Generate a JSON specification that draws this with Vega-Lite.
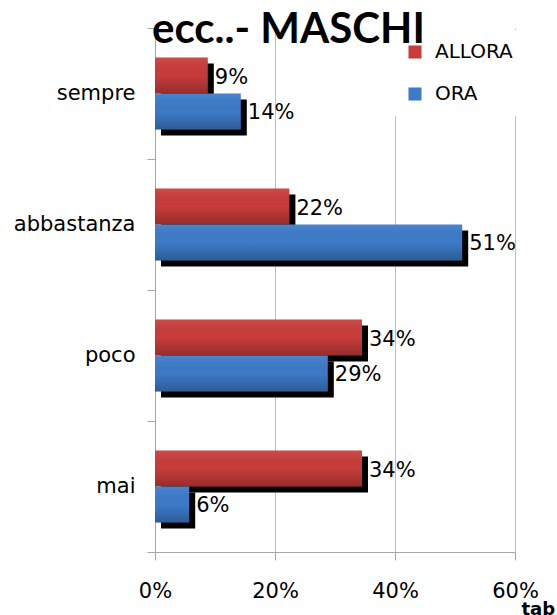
{
  "$schema": "https://vega.github.io/schema/vega-lite/v6.json",
  "width": 360,
  "height": 524,
  "autosize": {"type": "none"},
  "padding": {"left": 155, "top": 28, "right": 42, "bottom": 63},
  "background": "white",
  "title": {"text": "ecc..- MASCHI", "anchor": "start", "frame": "group", "font": "Lato", "fontSize": 42, "fontWeight": "bold", "color": "black", "baseline": "alphabetic", "offset": 0, "dy": 68, "dx": -3},
  "data": {"values": [
    {"cat": "sempre", "serie": "ALLORA", "value": 0.088, "label": "9%"},
    {"cat": "sempre", "serie": "ORA", "value": 0.143, "label": "14%"},
    {"cat": "abbastanza", "serie": "ALLORA", "value": 0.224, "label": "22%"},
    {"cat": "abbastanza", "serie": "ORA", "value": 0.512, "label": "51%"},
    {"cat": "poco", "serie": "ALLORA", "value": 0.345, "label": "34%"},
    {"cat": "poco", "serie": "ORA", "value": 0.288, "label": "29%"},
    {"cat": "mai", "serie": "ALLORA", "value": 0.345, "label": "34%"},
    {"cat": "mai", "serie": "ORA", "value": 0.057, "label": "6%"}
  ]},
  "encoding": {
    "y": {"field": "cat", "type": "nominal", "sort": ["sempre", "abbastanza", "poco", "mai"],
      "scale": {"paddingInner": 0, "paddingOuter": 0},
      "axis": {"title": null, "tickBand": "extent", "tickSize": 8, "tickColor": "#a6a6a6", "domainColor": "#a6a6a6", "labelPadding": 12, "labelFont": "DejaVu Sans", "labelFontSize": 21, "labelColor": "black"}},
    "x": {"field": "value", "type": "quantitative", "scale": {"domain": [0, 0.6], "nice": false},
      "axis": {"values": [0, 0.2, 0.4, 0.6], "format": ".0%", "grid": true, "gridColor": "#bfbfbf", "tickSize": 8, "tickColor": "#a6a6a6", "domainColor": "#a6a6a6", "labelFlush": false, "labelPadding": 20, "labelFont": "DejaVu Sans", "labelFontSize": 21, "labelColor": "black",
        "title": "tab", "titleX": 366, "titleY": 62, "titleAlign": "left", "titleBaseline": "alphabetic", "titleAnchor": null, "titleFont": "DejaVu Sans", "titleFontSize": 18, "titleFontWeight": "bold", "titleColor": "black"}}
  },
  "layer": [
    {"mark": {"type": "bar", "color": "black", "xOffset": 6, "x2Offset": 6},
     "encoding": {"yOffset": {"field": "serie", "type": "nominal", "sort": ["ALLORA", "ORA"], "scale": {"paddingInner": 0, "paddingOuter": 0.82, "align": 0.6}}}},
    {"layer": [
      {"mark": {"type": "bar"},
       "encoding": {"color": {"field": "serie", "type": "nominal", "sort": ["ALLORA", "ORA"],
         "scale": {"domain": ["ALLORA", "ORA"], "range": ["#c83c3a", "#3d7ac8"]},
         "legend": {"title": null, "orient": "none", "legendX": 238, "legendY": 2, "padding": 12, "fillColor": "white", "symbolType": "square", "symbolSize": 170, "symbolStrokeWidth": 0, "rowPadding": 22, "labelFont": "DejaVu Sans", "labelFontSize": 20, "labelColor": "black", "labelOffset": 10}}}},
      {"mark": {"type": "bar", "color": {"gradient": "linear", "x1": 0, "y1": 0, "x2": 0, "y2": 1, "stops": [{"offset": 0, "color": "rgba(255,255,255,0.08)"}, {"offset": 0.5, "color": "rgba(0,0,0,0)"}, {"offset": 1, "color": "rgba(0,0,0,0.25)"}]}}},
      {"mark": {"type": "text", "align": "left", "baseline": "middle", "dx": 7, "dy": 2, "font": "DejaVu Sans", "fontSize": 21, "color": "black"},
       "encoding": {"text": {"field": "label"}}}
     ],
     "encoding": {"yOffset": {"field": "serie", "type": "nominal", "sort": ["ALLORA", "ORA"], "scale": {"paddingInner": 0, "paddingOuter": 0.82}}}
    }
  ],
  "resolve": {"scale": {"yOffset": "independent"}},
  "config": {"view": {"stroke": null}}
}
